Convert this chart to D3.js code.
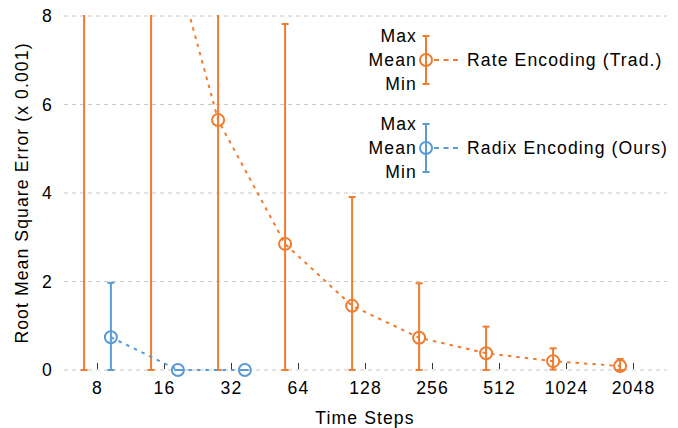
<!DOCTYPE html>
<html><head><meta charset="utf-8">
<script src="https://cdn.jsdelivr.net/npm/d3@7/dist/d3.min.js"></script>
<style>
body{margin:0;background:#fff;}
text{font-family:"Liberation Sans",Arial,sans-serif;fill:#000;}
</style></head>
<body><svg id="c" width="678" height="428"></svg>
<script>
const steps = ["8","16","32","64","128","256","512","1024","2048"];
const rateMean = [22.5, 11.2, 5.65, 2.85, 1.45, 0.73, 0.38, 0.2, 0.09];
const rateMax  = [40, 25, 12, 7.82, 3.91, 1.96, 0.98, 0.49, 0.25];
const rateMin  = [0, 0, 0, 0, 0, 0, 0, 0.01, 0];
const radixSteps = ["8","16","32"];
const radixMean = [0.74, 0, 0];
const radixMax  = [1.97, 0, 0];
const radixMin  = [0, 0, 0];
const yTicks = [0, 2, 4, 6, 8];
const seriesNames = ["Rate Encoding (Trad.)", "Radix Encoding (Ours)"];
const colors = ["#EE7D31", "#5B9BD5"];

const FS = "17.6px", LS = "1.1px";
const svg = d3.select("#c");
const x = d3.scaleBand().domain(steps).range([64, 667]).padding(0);
const y = d3.scaleLinear().domain([0, 8]).range([370, 16]);
const off = x.bandwidth() * 0.2;
const cx = s => x(s) + x.bandwidth() / 2;

svg.append("defs").append("clipPath").attr("id", "clip")
  .append("rect").attr("x", 0).attr("y", y(8) - 1).attr("width", 678).attr("height", y(0) - y(8) + 10);

// grid
svg.append("g").selectAll("line").data(yTicks).join("line")
  .attr("x1", 64).attr("x2", 667).attr("y1", d => y(d)).attr("y2", d => y(d))
  .attr("stroke", "#c8c8c8").attr("stroke-width", 1).attr("stroke-dasharray", "4,4");

// y tick labels
const ya = svg.append("g").attr("transform", "translate(53,0)")
  .call(d3.axisLeft(y).tickValues(yTicks).tickSize(0).tickPadding(0).tickFormat(d3.format("d")));
ya.select(".domain").remove();
ya.selectAll("text").attr("font-size", FS).attr("font-family", "Liberation Sans, Arial, sans-serif").attr("fill", "#000").style("letter-spacing", LS);

// x axis labels
const xa = svg.append("g").attr("transform", "translate(0,378)")
  .call(d3.axisBottom(x).tickSize(0).tickPadding(0));
xa.select(".domain").remove();
xa.selectAll("text").attr("font-size", FS).attr("font-family", "Liberation Sans, Arial, sans-serif").attr("fill", "#000").attr("dy", "0.9em").style("letter-spacing", LS);

// minor ticks
svg.append("g").selectAll("line").data(steps).join("line")
  .attr("x1", d => cx(d)).attr("x2", d => cx(d)).attr("y1", y(0) - 1).attr("y2", y(0) - 7)
  .attr("stroke", "#333").attr("stroke-width", 1);

// titles
svg.append("text").attr("x", 365).attr("y", 424).attr("text-anchor", "middle")
  .attr("font-size", FS).style("letter-spacing", LS).text("Time Steps");
svg.append("text").attr("transform", "translate(28,193) rotate(-90)").attr("text-anchor", "middle")
  .attr("font-size", FS).style("letter-spacing", LS).text("Root Mean Square Error (x 0.001)");

const plot = svg.append("g").attr("clip-path", "url(#clip)");

function drawSeries(cats, mean, mx, mn, color, dx) {
  const g = plot.append("g");
  const px = cats.map(c => cx(c) + dx);
  g.append("path").attr("d", d3.line()(cats.map((c, i) => [px[i], y(mean[i])])))
    .attr("fill", "none").attr("stroke", color).attr("stroke-width", 2).attr("stroke-dasharray", "3.5,5");
  cats.forEach((c, i) => {
    g.append("line").attr("x1", px[i]).attr("x2", px[i]).attr("y1", y(mn[i])).attr("y2", y(mx[i]))
      .attr("stroke", color).attr("stroke-width", 2);
    [mn[i], mx[i]].forEach(v => g.append("line").attr("x1", px[i] - 3.5).attr("x2", px[i] + 3.5)
      .attr("y1", y(v)).attr("y2", y(v)).attr("stroke", color).attr("stroke-width", 2));
    g.append("circle").attr("cx", px[i]).attr("cy", y(mean[i])).attr("r", 6)
      .attr("fill", "none").attr("stroke", color).attr("stroke-width", 2);
  });
}
drawSeries(steps, rateMean, rateMax, rateMin, colors[0], -off);
drawSeries(radixSteps, radixMean, radixMax, radixMin, colors[1], off);

// legend
const legendY = [60, 148];
seriesNames.forEach((name, k) => {
  const g = svg.append("g");
  const my = legendY[k], bx = 426;
  [["Max", -24], ["Mean", 0], ["Min", 24]].forEach(([t, d]) =>
    g.append("text").attr("x", 417).attr("y", my + d).attr("dy", "0.35em").attr("text-anchor", "end")
      .attr("font-size", FS).style("letter-spacing", LS).text(t));
  g.append("line").attr("x1", bx).attr("x2", bx).attr("y1", my - 24).attr("y2", my + 24).attr("stroke", colors[k]).attr("stroke-width", 2);
  [-24, 24].forEach(d => g.append("line").attr("x1", bx - 3.5).attr("x2", bx + 3.5).attr("y1", my + d).attr("y2", my + d).attr("stroke", colors[k]).attr("stroke-width", 2));
  g.append("circle").attr("cx", bx).attr("cy", my).attr("r", 6).attr("fill", "none").attr("stroke", colors[k]).attr("stroke-width", 2);
  g.append("line").attr("x1", bx + 8).attr("x2", 459).attr("y1", my).attr("y2", my).attr("stroke", colors[k]).attr("stroke-width", 2).attr("stroke-dasharray", "5,4.5");
  g.append("text").attr("x", 467).attr("y", my).attr("dy", "0.35em").attr("font-size", FS).style("letter-spacing", LS).text(name);
});
</script></body></html>
